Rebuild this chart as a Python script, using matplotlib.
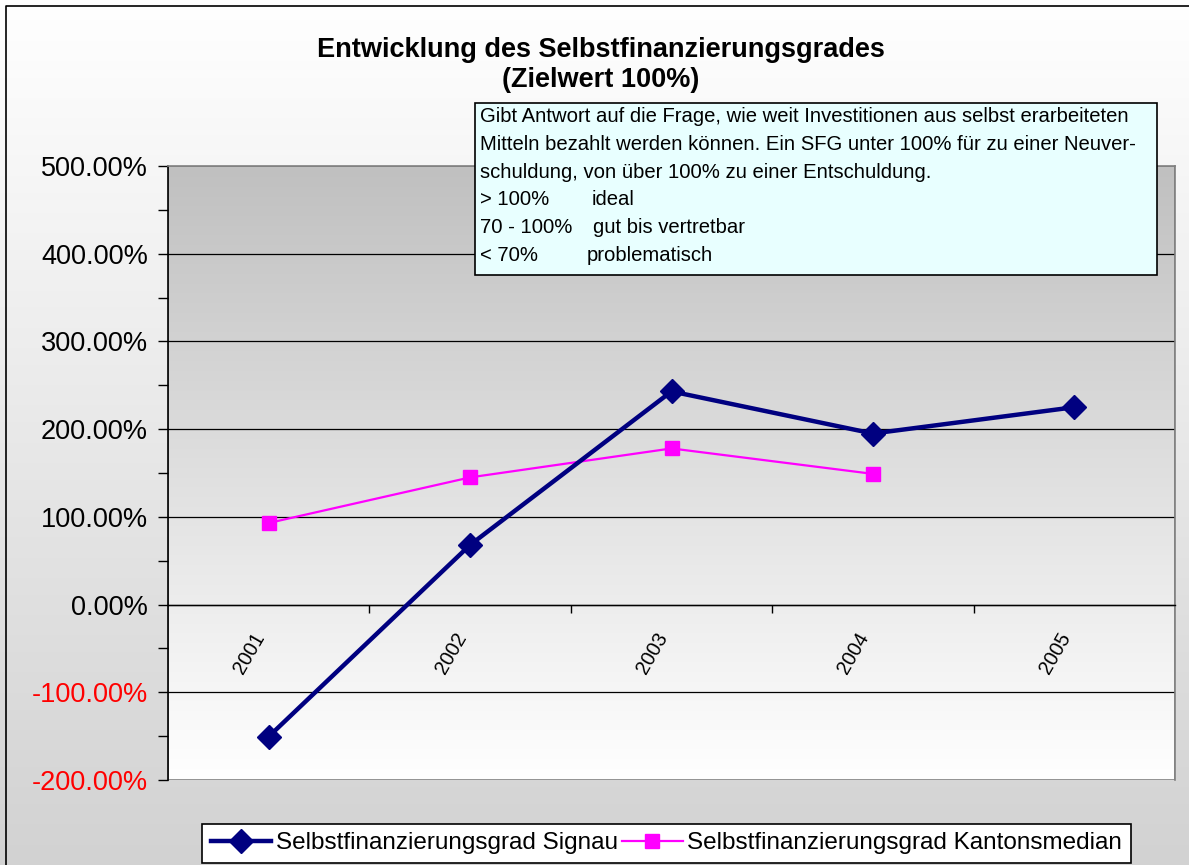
import numpy as np
import matplotlib.pyplot as plt
from matplotlib.colors import LinearSegmentedColormap
from matplotlib.patches import Rectangle
from matplotlib.ticker import FuncFormatter, MultipleLocator, FixedLocator

plt.rcParams['font.family'] = ['Liberation Sans', 'DejaVu Sans']

# Daten
jahre = ['2001', '2002', '2003', '2004', '2005']
sfg_signau = [-150.5, 68, 243, 195, 225]
sfg_kanton = [93, 145, 178, 149]

W, H = 1189, 865
fig = plt.figure(figsize=(W / 100, H / 100), dpi=100)


def fx(px):
    return px / W


def fy(py):
    return 1 - py / H


grad = np.linspace(0, 1, 256).reshape(-1, 1)

# Hintergrund der ganzen Grafik (oben weiss -> unten hellgrau)
bg = fig.add_axes([0, 0, 1, 1], zorder=-10)
bg.imshow(grad, cmap=LinearSegmentedColormap.from_list('bg', ['#ffffff', '#d2d2d2']),
          aspect='auto', extent=[0, 1, 0, 1])
bg.set_xlim(0, 1)
bg.set_ylim(0, 1)
bg.axis('off')
# Rahmen: nur oben und links sichtbar (Rest abgeschnitten)
bg.plot([fx(6), fx(6), 1.01], [-0.01, fy(6), fy(6)], color='black',
        linewidth=1.2, clip_on=False)

# Diagrammflaeche
ax = fig.add_axes([fx(168), fy(780), fx(1175) - fx(168), fy(166) - fy(780)])
ax.patch.set_visible(False)
ax.imshow(grad, cmap=LinearSegmentedColormap.from_list('pa', ['#c0c0c0', '#ffffff']),
          aspect='auto', extent=[0, 1, 0, 1], transform=ax.transAxes, zorder=0)

x = np.arange(len(jahre))
ax.plot(x, sfg_signau, color='#000080', linewidth=3.2, marker='D',
        markersize=12, label='Selbstfinanzierungsgrad Signau', zorder=5)
ax.plot(x[:len(sfg_kanton)], sfg_kanton, color='#ff00ff', linewidth=1.6,
        marker='s', markersize=10, label='Selbstfinanzierungsgrad Kantonsmedian',
        zorder=4)

ax.set_xlim(-0.5, len(jahre) - 0.5)
ax.set_ylim(-200, 500)

# Gitterlinien
for v in range(-100, 500, 100):
    ax.axhline(v, color='black', linewidth=0.9, zorder=2)

# Achsen
for s in ['top', 'right']:
    ax.spines[s].set_color('#808080')
    ax.spines[s].set_linewidth(1.2)
ax.spines['left'].set_color('black')
ax.spines['left'].set_linewidth(1.2)
ax.spines['bottom'].set_position(('data', 0))
ax.spines['bottom'].set_color('black')
ax.spines['bottom'].set_linewidth(1.0)
ax.add_patch(Rectangle((0, 0), 1, 1, transform=ax.transAxes, fill=False,
                       edgecolor='#808080', linewidth=1.2, zorder=1))

ax.yaxis.set_major_locator(MultipleLocator(100))
ax.yaxis.set_minor_locator(MultipleLocator(50))
ax.yaxis.set_major_formatter(FuncFormatter(lambda v, p: '%.2f%%' % v))
ax.tick_params(axis='y', which='major', direction='out', length=7.5, width=1,
               labelsize=19.5, pad=7)
ax.tick_params(axis='y', which='minor', direction='out', length=7.5, width=1)

ax.set_xticks(x)
ax.set_xticklabels(jahre, rotation=60, ha='right', va='top', fontsize=14.3)
ax.xaxis.set_minor_locator(FixedLocator(x[:-1] + 0.5))
ax.tick_params(axis='x', which='major', length=0, pad=18)
ax.tick_params(axis='x', which='minor', direction='out', length=6, width=1)

fig.canvas.draw()
for lab in ax.get_yticklabels():
    if '-' in lab.get_text() or '\u2212' in lab.get_text():
        lab.set_color('red')

# Titel
fig.text(fx(601), fy(50), 'Entwicklung des Selbstfinanzierungsgrades',
         ha='center', va='center', fontsize=19.5, fontweight='bold')
fig.text(fx(601), fy(80), '(Zielwert 100%)',
         ha='center', va='center', fontsize=19.5, fontweight='bold')

# Textfeld
fig.patches.append(Rectangle((fx(475), fy(275)), fx(1157) - fx(475),
                             fy(103) - fy(275), transform=fig.transFigure,
                             facecolor='#e8ffff', edgecolor='black',
                             linewidth=1.2, zorder=8))
zeilen = [
    ('Gibt Antwort auf die Frage, wie weit Investitionen aus selbst erarbeiteten', ''),
    ('Mitteln bezahlt werden können. Ein SFG unter 100% für zu einer Neuver-', ''),
    ('schuldung, von über 100% zu einer Entschuldung.', ''),
    ('> 100%', 'ideal'),
    ('70 - 100%', 'gut bis vertretbar'),
    ('< 70%', 'problematisch'),
]
zweite_x = [0, 0, 0, 592, 593, 587]
for i, (a, b) in enumerate(zeilen):
    yb = 122 + i * 27.8
    fig.text(fx(480), fy(yb), a, ha='left', va='baseline', fontsize=14.6,
             zorder=9)
    if b:
        fig.text(fx(zweite_x[i]), fy(yb), b, ha='left', va='baseline',
                 fontsize=14.6, zorder=9)

# Legende
handles, labels = ax.get_legend_handles_labels()
leg = fig.legend(handles, labels, loc='lower left',
                 bbox_to_anchor=(fx(202), fy(863)), ncol=2, fontsize=17.5,
                 frameon=True, fancybox=False, framealpha=1,
                 edgecolor='black', handlelength=2.5, handletextpad=0.2,
                 columnspacing=0.15, borderpad=0.35, borderaxespad=0)
leg.get_frame().set_linewidth(1.2)

fig.savefig('out.png', dpi=100)
